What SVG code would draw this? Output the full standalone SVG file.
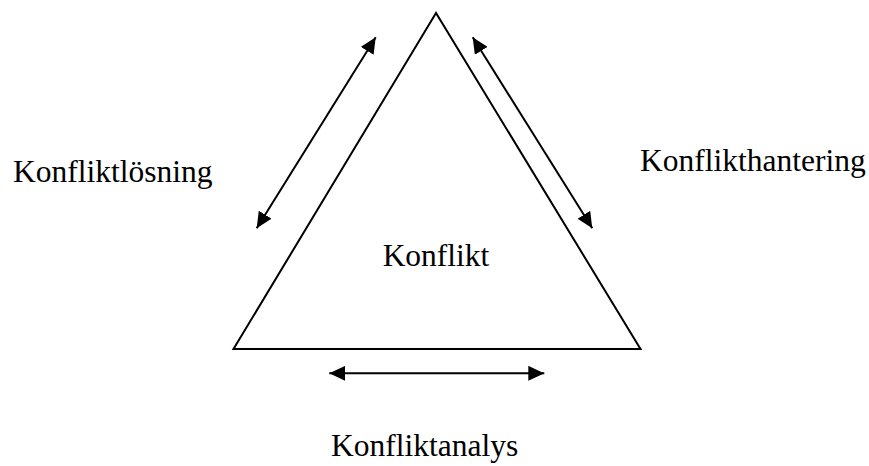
<svg xmlns="http://www.w3.org/2000/svg" width="869" height="466" viewBox="0 0 869 466">
<style>
text{font-family:"Liberation Serif","Times New Roman",serif;font-size:31.5px;fill:#000}
.ln{stroke:#000;stroke-width:2;fill:none}
</style>
<defs>
<marker id="ah" viewBox="0 0 16 15" refX="16" refY="7.5" markerWidth="16" markerHeight="15" markerUnits="userSpaceOnUse" orient="auto-start-reverse">
<path d="M0,0 L16,7.5 L0,15 Z" fill="#000"/>
</marker>
</defs>
<rect width="869" height="466" fill="#fff"/>
<g id="triangle">
<polygon class="ln" points="436,13 233.5,349 640.5,349"/>
<text x="436" y="266" text-anchor="middle">Konflikt</text>
</g>
<g id="connectors">
<line class="ln" x1="256.7" y1="228.3" x2="375.7" y2="37.3" marker-start="url(#ah)" marker-end="url(#ah)"/>
<line class="ln" x1="472.7" y1="37.3" x2="592.3" y2="228.3" marker-start="url(#ah)" marker-end="url(#ah)"/>
<line class="ln" x1="329.3" y1="373.3" x2="544.3" y2="373.3" marker-start="url(#ah)" marker-end="url(#ah)"/>
</g>
<g id="label-losning"><text x="13" y="182">Konfliktlösning</text></g>
<g id="label-hantering"><text x="640" y="171">Konflikthantering</text></g>
<g id="label-analys"><text x="331" y="456">Konfliktanalys</text></g>
</svg>
